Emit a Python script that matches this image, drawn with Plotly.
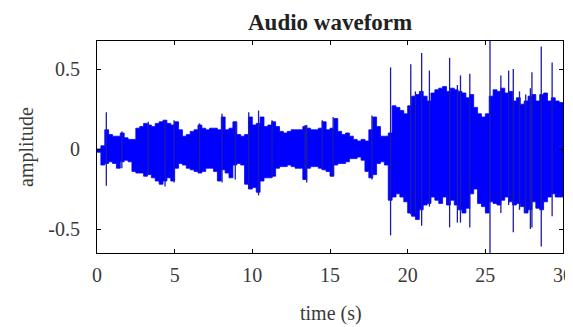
import plotly.graph_objects as go

# Envelope of the waveform (time in s, upper / lower peak)
env_t = [0.0, 0.25, 0.5, 0.75, 1.0, 1.25, 1.5, 1.75, 2.0, 2.25, 2.5, 2.75, 3.0, 3.25, 3.5, 3.75,
         4.0, 4.25, 4.5, 4.75, 5.0, 5.25, 5.5, 5.75, 6.0, 6.25, 6.5, 6.75, 7.0, 7.25, 7.5, 7.75,
         8.0, 8.25, 8.5, 8.75, 9.0, 9.25, 9.5, 9.75, 10.0, 10.25, 10.5, 10.75, 11.0, 11.25, 11.5, 11.75,
         12.0, 12.25, 12.5, 12.75, 13.0, 13.25, 13.5, 13.75, 14.0, 14.25, 14.5, 14.75, 15.0, 15.25, 15.5, 15.75,
         16.0, 16.25, 16.5, 16.75, 17.0, 17.25, 17.5, 17.75, 18.0, 18.25, 18.5, 18.75, 19.0, 19.25, 19.5, 19.75,
         20.0, 20.25, 20.5, 20.75, 21.0, 21.25, 21.5, 21.75, 22.0, 22.25, 22.5, 22.75, 23.0, 23.25, 23.5, 23.75,
         24.0, 24.25, 24.5, 24.75, 25.0, 25.25, 25.5, 25.75, 26.0, 26.25, 26.5, 26.75, 27.0, 27.25, 27.5, 27.75,
         28.0, 28.25, 28.5, 28.75, 29.0, 29.25, 29.5, 29.75, 30.0]
env_up = [0.0, 0.02, 0.12, 0.09, 0.08, 0.08, 0.10, 0.07, 0.06, 0.06, 0.13, 0.14, 0.16, 0.15, 0.14, 0.16,
          0.17, 0.18, 0.16, 0.15, 0.17, 0.12, 0.08, 0.09, 0.11, 0.12, 0.15, 0.13, 0.12, 0.13, 0.13, 0.12,
          0.20, 0.12, 0.13, 0.17, 0.09, 0.08, 0.09, 0.20, 0.15, 0.16, 0.20, 0.14, 0.15, 0.17, 0.14, 0.11,
          0.10, 0.11, 0.12, 0.12, 0.12, 0.14, 0.13, 0.12, 0.12, 0.13, 0.17, 0.12, 0.13, 0.19, 0.11, 0.09,
          0.10, 0.08, 0.06, 0.05, 0.06, 0.05, 0.12, 0.20, 0.14, 0.08, 0.08, 0.10, 0.27, 0.26, 0.24, 0.22,
          0.27, 0.33, 0.34, 0.36, 0.33, 0.30, 0.35, 0.37, 0.38, 0.39, 0.36, 0.38, 0.37, 0.36, 0.35, 0.32,
          0.34, 0.26, 0.22, 0.20, 0.22, 0.33, 0.37, 0.36, 0.38, 0.35, 0.36, 0.30, 0.32, 0.28, 0.30, 0.33,
          0.34, 0.30, 0.34, 0.35, 0.30, 0.32, 0.30, 0.29, 0.28]
env_lo = [0.0, -0.02, -0.10, -0.09, -0.08, -0.09, -0.12, -0.08, -0.07, -0.08, -0.14, -0.15, -0.15, -0.17, -0.16, -0.18,
          -0.20, -0.22, -0.20, -0.18, -0.20, -0.12, -0.09, -0.10, -0.12, -0.13, -0.14, -0.15, -0.14, -0.12, -0.12, -0.14,
          -0.20, -0.13, -0.15, -0.18, -0.10, -0.09, -0.10, -0.22, -0.25, -0.24, -0.27, -0.20, -0.18, -0.18, -0.17, -0.12,
          -0.11, -0.11, -0.10, -0.11, -0.12, -0.12, -0.19, -0.12, -0.11, -0.11, -0.12, -0.13, -0.14, -0.17, -0.10, -0.09,
          -0.09, -0.08, -0.06, -0.06, -0.05, -0.07, -0.14, -0.18, -0.16, -0.09, -0.08, -0.10, -0.32, -0.30, -0.28, -0.30,
          -0.33, -0.40, -0.42, -0.44, -0.38, -0.35, -0.34, -0.30, -0.32, -0.34, -0.30, -0.35, -0.32, -0.35, -0.38, -0.40,
          -0.37, -0.28, -0.25, -0.34, -0.36, -0.40, -0.33, -0.34, -0.35, -0.32, -0.30, -0.33, -0.35, -0.34, -0.36, -0.40,
          -0.38, -0.33, -0.37, -0.38, -0.33, -0.30, -0.28, -0.30, -0.30]

# Isolated peaks (time, top, bottom)
spike_t = [0.6, 1.6, 3.3, 4.38, 4.96, 6.6, 8.05, 8.9, 9.77, 10.4, 11.27, 13.4, 13.5, 14.5, 15.2, 17.7,
           18.9, 20.2, 20.5, 20.9, 21.4, 22.7, 23.2, 23.4, 24.0, 25.3, 26.0, 26.5, 26.8, 27.2, 27.6,
           27.9, 28.0, 28.6, 29.3]
spike_up = [0.23, 0.11, 0.17, 0.18, 0.18, 0.16, 0.22, 0.17, 0.23, 0.24, 0.18, 0.15, 0.15, 0.18, 0.20, 0.21,
            0.51, 0.53, 0.36, 0.60, 0.49, 0.57, 0.40, 0.46, 0.47, 0.675, 0.46, 0.49, 0.50, 0.36, 0.34,
            0.38, 0.48, 0.64, 0.54]
spike_lo = [-0.23, -0.12, -0.16, -0.235, -0.21, -0.15, -0.21, -0.19, -0.25, -0.29, -0.18, -0.13, -0.21, -0.13, -0.17, -0.19,
            -0.54, -0.41, -0.40, -0.48, -0.36, -0.49, -0.46, -0.46, -0.49, -0.65, -0.40, -0.35, -0.52, -0.38, -0.40,
            -0.50, -0.49, -0.61, -0.42]

x_ticks = [0, 5, 10, 15, 20, 25, 30]
y_ticks = [-0.5, 0, 0.5]
y_tick_text = ["-0.5", "0", "0.5"]

BLUE = "#0000ff"
SERIF = "Liberation Serif, Times New Roman, serif"

fig = go.Figure()

# solid band (stepped edges)
fig.add_trace(go.Scatter(
    x=env_t + env_t[::-1], y=env_up + env_lo[::-1],
    fill="toself", fillcolor=BLUE, mode="lines", line=dict(width=0.8, color=BLUE, shape="hv"),
    hoverinfo="skip", showlegend=False))

# spikes
sx, sy = [], []
for t, u, l in zip(spike_t, spike_up, spike_lo):
    sx += [t, t, None]
    sy += [u, l, None]
fig.add_trace(go.Scatter(x=sx, y=sy, mode="lines", line=dict(width=1.3, color="#1c1caa"),
                         hoverinfo="skip", showlegend=False))

# the page body has an 8px margin: shrink the figure so the plot lands where the reference has it
OFF = 8
W, H = 573 - OFF, 327 - OFF
PL, PR, PT, PB = 97, 563, 41, 253          # plot-area box in window pixels
L, R, T, B = PL - OFF, 573 - PR, PT - OFF, 327 - PB
pw, ph = PR - PL, PB - PT


def px_to_paper_x(px):
    return (px - PL) / pw


def py_to_paper_y(py):
    return (PB - py) / ph


fig.update_layout(
    width=W, height=H,
    margin=dict(l=L, r=R, t=T, b=B),
    paper_bgcolor="white", plot_bgcolor="white",
    font=dict(family=SERIF, size=20, color="#3a3a3a"),
    xaxis=dict(range=[0, 30], tickvals=x_ticks, ticks="inside", ticklen=4, tickcolor="black",
               showline=True, linecolor="black", linewidth=1, mirror="ticks", showgrid=False,
               zeroline=False, ticklabelstandoff=4, automargin=False),
    yaxis=dict(range=[-0.65, 0.675], tickvals=y_ticks, ticktext=y_tick_text, ticks="inside", ticklen=4,
               tickcolor="black", showline=True, linecolor="black", linewidth=1, mirror="ticks",
               showgrid=False, zeroline=False, ticklabelstandoff=12, automargin=False),
    annotations=[
        dict(text="<b>Audio waveform</b>", xref="paper", yref="paper",
             x=px_to_paper_x(330), y=py_to_paper_y(22), xanchor="center", yanchor="middle",
             showarrow=False, font=dict(family=SERIF, size=23, color="#222222")),
        dict(text="time (s)", xref="paper", yref="paper",
             x=px_to_paper_x(331), y=py_to_paper_y(313), xanchor="center", yanchor="middle",
             showarrow=False, font=dict(family=SERIF, size=20, color="#3a3a3a")),
        dict(text="amplitude", xref="paper", yref="paper", textangle=-90,
             x=px_to_paper_x(26), y=py_to_paper_y(147), xanchor="center", yanchor="middle",
             showarrow=False, font=dict(family=SERIF, size=20, color="#3a3a3a")),
    ],
)

fig.write_html("out.html")
